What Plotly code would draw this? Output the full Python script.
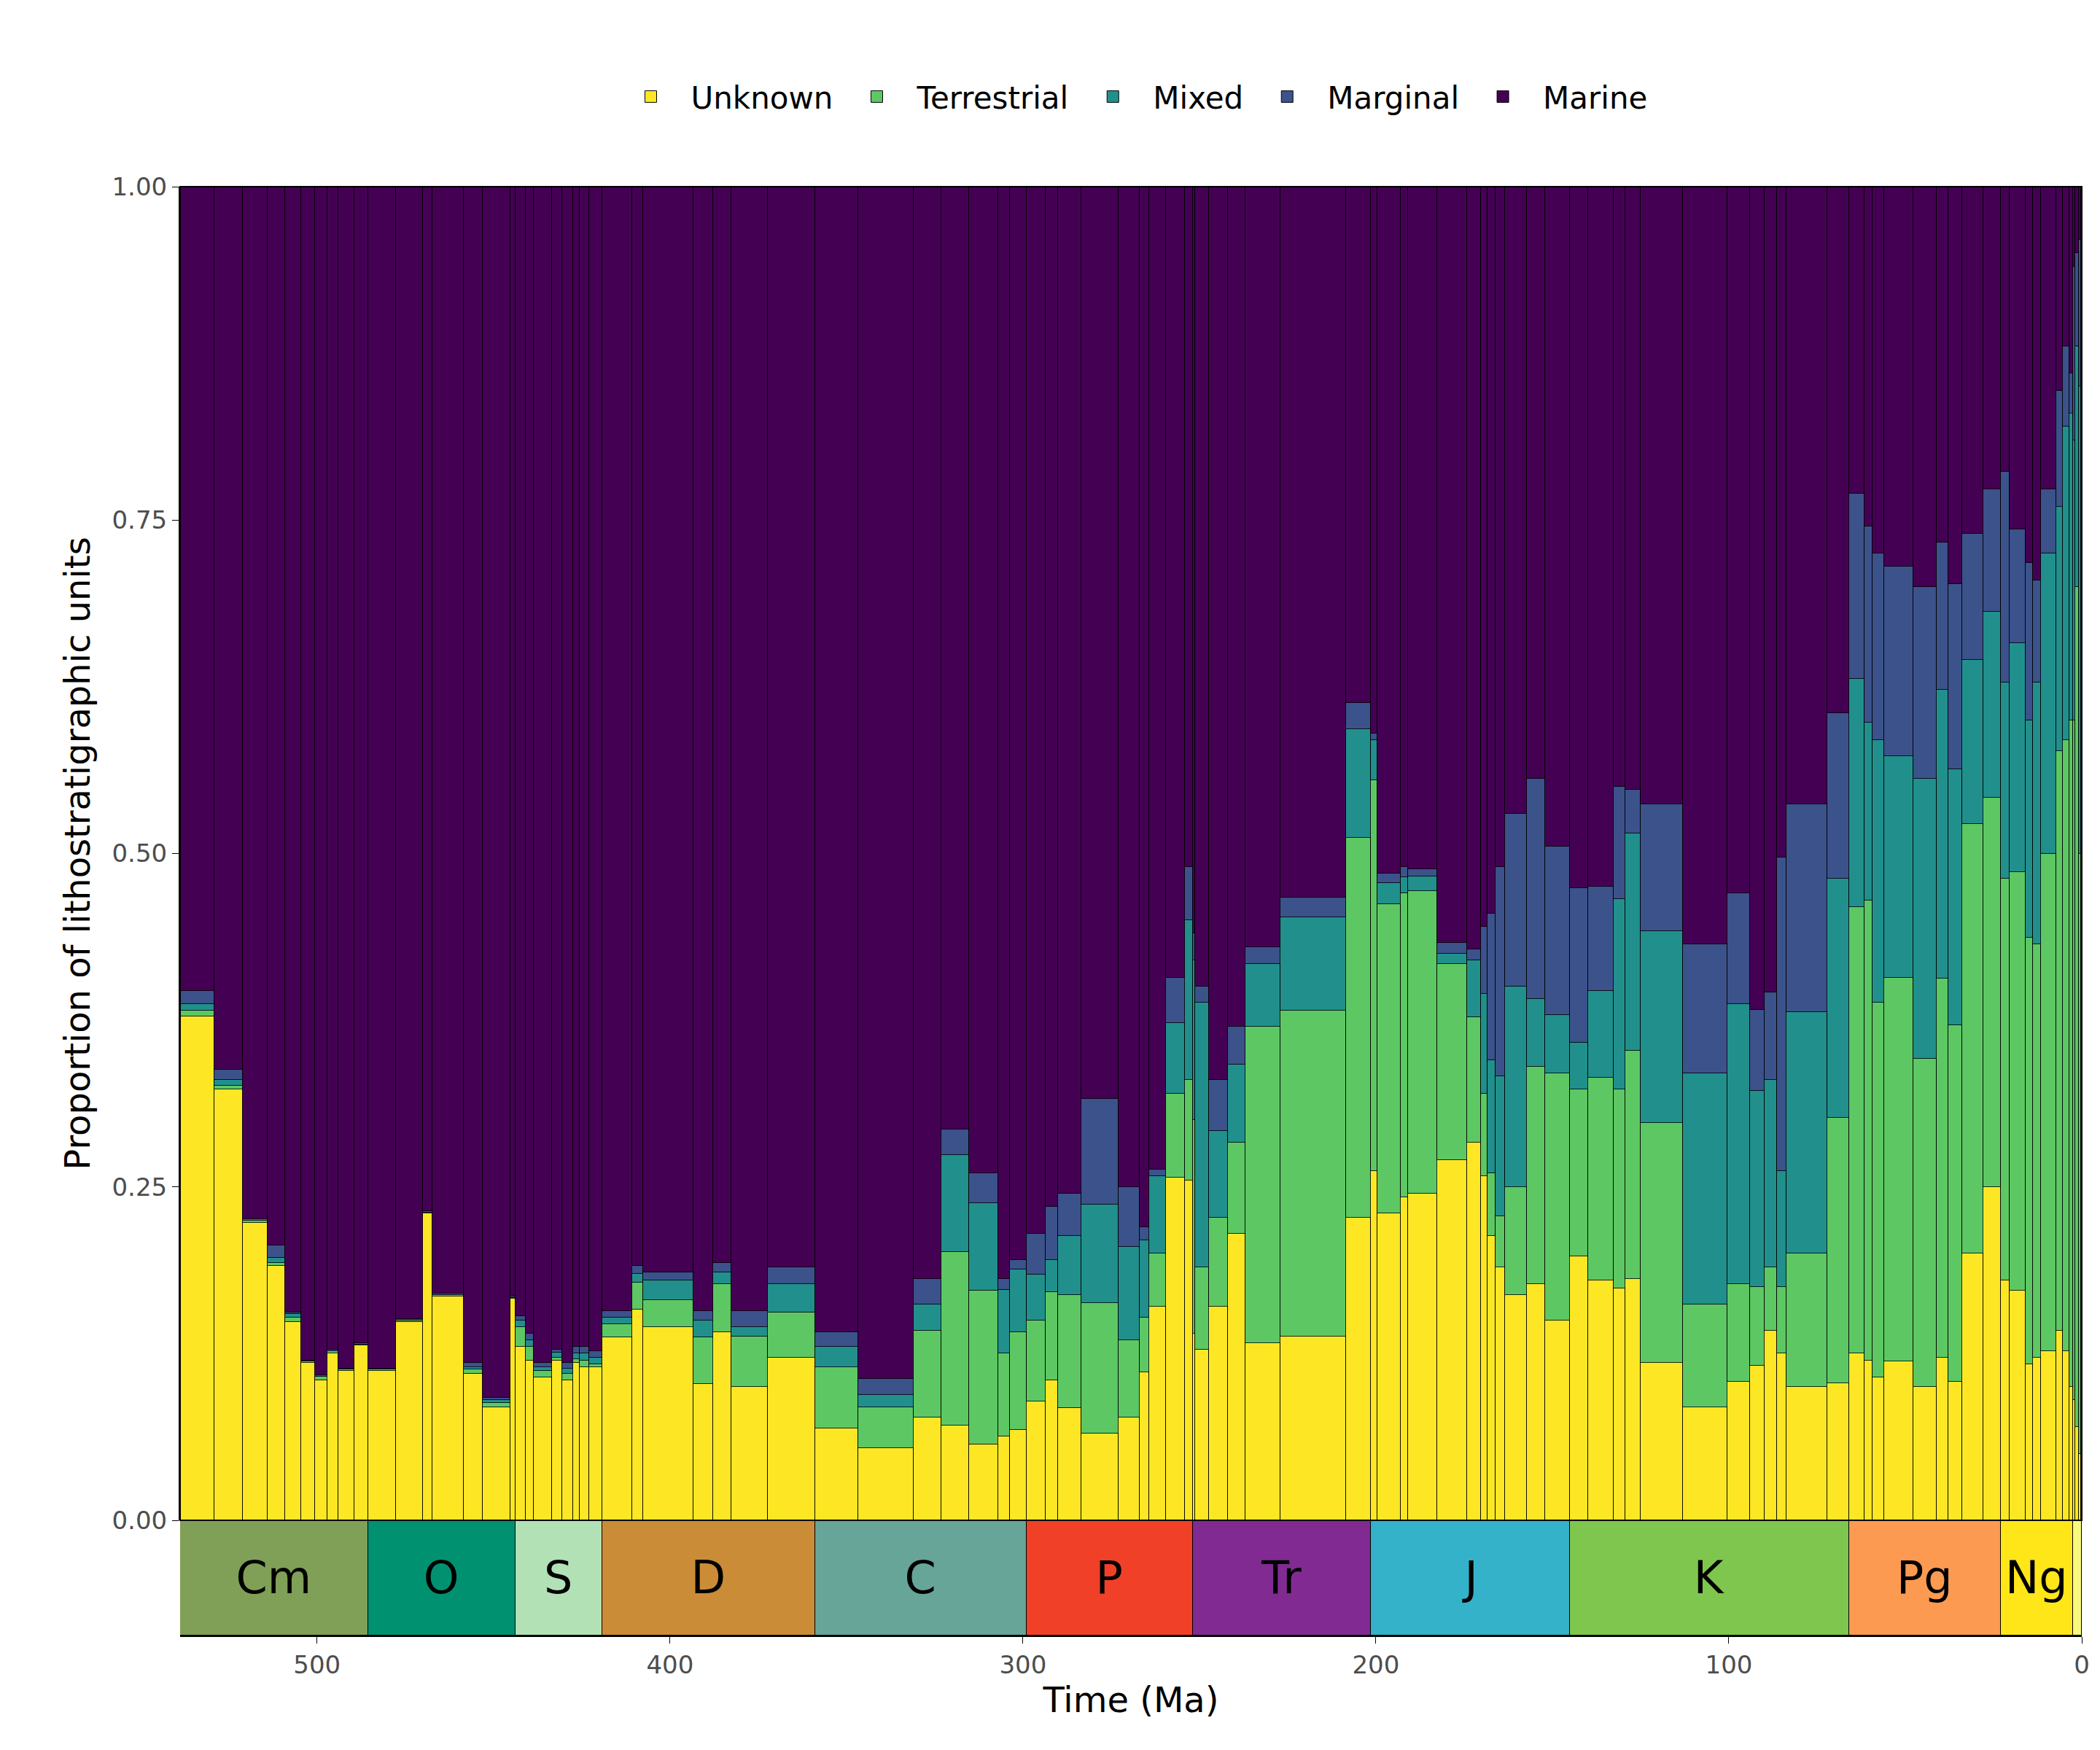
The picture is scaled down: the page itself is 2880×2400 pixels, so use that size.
import numpy as np
import plotly.graph_objects as go

# Stage start ages (Ma), oldest to youngest; final edge 0
stage_starts = [538.8,529,521,514,509,504.5,500.5,497,494,489.5,
                485.4,477.7,470,467.3,458.4,453,445.2,
                443.8,440.8,438.5,433.4,430.5,427.4,425.6,423,
                419.2,410.8,407.6,393.3,387.7,382.7,372.2,
                358.9,346.7,330.9,323.2,315.2,307,303.7,
                298.9,293.5,290.1,283.5,273,266.9,264.3,259.5,254.1,
                251.9,251.2,247.2,242,237,227,208.5,
                201.4,199.5,192.9,190.8,182.7,174.1,170.3,168.3,166.1,163.5,157.3,152.1,
                145,139.8,132.6,129.4,125,113,100.5,93.9,89.8,86.3,83.6,72.1,
                66,61.6,59.2,56,47.8,41.2,37.8,33.9,27.8,
                23.03,20.44,15.97,13.82,11.63,7.246,5.333,3.6,2.58,1.8,0.774,0.129,0.0117]
stage_end_final = 0.0

# Cumulative tops
unknown_top = [.378,.323,.223,.191,.149,.118,.105,.125,.112,.131,
 .112,.149,.230,.168,.110,.085,.166,
 .130,.120,.107,.120,.105,.118,.115,.115,
 .137,.158,.145,.102,.141,.100,.122,
 .069,.054,.077,.071,.057,.063,.068,
 .089,.105,.084,.065,.077,.111,.160,.257,.255,
 .14,.128,.160,.215,.133,.138,.227,
 .262,.230,.242,.245,.270,.283,.258,.213,.190,.169,.177,.150,
 .198,.180,.174,.181,.118,.085,.104,.116,.142,.125,.100,.103,
 .125,.120,.107,.119,.100,.122,.104,.200,.250,
 .180,.172,.117,.122,.127,.142,.127,.10,.09,.07,.05,.05,.05]
terrestrial_top = [.382,.326,.225,.193,.152,.119,.108,.127,.113,.132,
 .113,.150,.231,.169,.113,.088,.167,
 .145,.130,.112,.122,.110,.121,.120,.117,
 .147,.178,.165,.137,.177,.138,.156,
 .115,.085,.142,.201,.172,.125,.141,
 .150,.171,.169,.163,.135,.152,.200,.320,.330,
 .300,.190,.227,.283,.370,.382,.512,
 .555,.462,.470,.472,.417,.377,.320,.260,.228,.250,.340,.335,
 .323,.332,.323,.352,.298,.162,.177,.175,.190,.175,.200,.302,
 .460,.465,.388,.407,.346,.406,.371,.522,.542,
 .481,.486,.437,.432,.500,.577,.585,.60,.60,.70,.50,.06,.30]
mixed_top = [.387,.330,.226,.197,.155,.119,.108,.127,.113,.132,
 .113,.150,.231,.169,.115,.090,.167,
 .150,.135,.115,.126,.114,.125,.125,.122,
 .152,.185,.180,.150,.186,.145,.177,
 .130,.094,.162,.274,.238,.173,.188,
 .184,.195,.213,.237,.205,.210,.258,.373,.450,
 .420,.388,.292,.342,.417,.452,.593,
 .585,.478,.482,.483,.425,.420,.395,.345,.333,.400,.391,.379,
 .358,.397,.466,.515,.442,.335,.387,.322,.330,.262,.381,.481,
 .631,.598,.585,.573,.556,.623,.563,.645,.681,
 .628,.658,.600,.628,.725,.760,.820,.83,.81,.88,.85,.10,.70]
marginal_top = [.397,.338,.226,.206,.156,.120,.109,.128,.114,.133,
 .114,.151,.232,.170,.118,.092,.168,
 .153,.140,.118,.128,.118,.130,.130,.127,
 .157,.191,.186,.157,.193,.157,.190,
 .141,.106,.181,.293,.260,.181,.195,
 .215,.235,.245,.316,.250,.220,.263,.407,.490,
 .440,.400,.330,.370,.430,.467,.613,
 .590,.485,.490,.488,.433,.428,.445,.455,.490,.530,.556,.505,
 .474,.475,.550,.548,.537,.432,.470,.383,.396,.497,.537,.605,
 .770,.745,.725,.715,.700,.733,.702,.740,.773,
 .786,.743,.718,.705,.773,.847,.880,.86,.94,.95,.96,.12,.80]

period_names = ["Cm","O","S","D","C","P","Tr","J","K","Pg","Ng",""]
period_start = [538.8,485.4,443.8,419.2,358.9,298.9,251.9,201.4,145,66,23.03,2.58]
period_end = [485.4,443.8,419.2,358.9,298.9,251.9,201.4,145,66,23.03,2.58,0]
period_colors = ["#7FA056","#009270","#B3E1B6","#CB8C37","#67A599","#F04028",
                 "#812B92","#34B2C9","#7FC64E","#FD9A52","#FFE619","#F9F97F"]

categories = ["Unknown","Terrestrial","Mixed","Marginal","Marine"]
cat_colors = ["#FDE725","#5DC863","#21908C","#3B528B","#440154"]

starts = np.array(stage_starts)
ends = np.append(starts[1:], stage_end_final)
mids = (starts + ends) / 2
widths = starts - ends
tops = np.vstack([unknown_top, terrestrial_top, mixed_top, marginal_top, np.ones(len(starts))])
props = np.diff(np.vstack([np.zeros(len(starts)), tops]), axis=0)

fig = go.Figure()
for i, c in enumerate(categories):
    fig.add_trace(go.Bar(x=mids, y=props[i], width=widths, name=c, showlegend=False,
                         marker=dict(color=cat_colors[i], line=dict(color="black", width=0.8)),
                         xaxis="x", yaxis="y"))
# legend entries with large square keys
for i in reversed(range(len(categories))):
    fig.add_trace(go.Scatter(x=[None], y=[None], mode="markers", name=categories[i],
                             marker=dict(symbol="square", size=92, color=cat_colors[i],
                                         line=dict(color="black", width=1)),
                             xaxis="x", yaxis="y"))

ps = np.array(period_start); pe = np.array(period_end)
fig.add_trace(go.Bar(x=(ps+pe)/2, y=[1]*len(ps), width=ps-pe, text=period_names,
                     textposition="inside", insidetextanchor="middle",
                     textfont=dict(size=62, color="black"), textangle=0,
                     marker=dict(color=period_colors, line=dict(color="black", width=1.5)),
                     showlegend=False, xaxis="x", yaxis="y2", cliponaxis=False,
                     constraintext="none"))

fig.update_layout(
    width=2880, height=2400, barmode="stack", bargap=0,
    paper_bgcolor="white", plot_bgcolor="white",
    font=dict(family="DejaVu Sans", size=34, color="#4d4d4d"),
    margin=dict(l=239, r=33, t=248, b=165, autoexpand=False),
    legend=dict(orientation="h", x=0.5, xanchor="center", y=1.045, yanchor="bottom",
                itemsizing="trace", font=dict(size=42, color="black"), itemwidth=100),
    xaxis=dict(domain=[0,1], anchor="y2", range=[538.8,0], tickvals=[0,100,200,300,400,500],
               ticks="outside", ticklen=9, tickcolor="black", showgrid=False, zeroline=False,
               title=dict(text="Time (Ma)", font=dict(size=48, color="black"), standoff=8),
               showline=True, linecolor="black", linewidth=2),
    yaxis=dict(domain=[0.0795,1], anchor="x", range=[0,1], tickvals=[0,0.25,0.5,0.75,1],
               tickformat=".2f", ticks="outside", ticklen=9, tickcolor="black",
               showgrid=False, zeroline=False, showline=True, linecolor="black", linewidth=2,
               title=dict(text="Proportion of lithostratigraphic units", font=dict(size=48, color="black"))),
    yaxis2=dict(domain=[0,0.0795], anchor="x", range=[0,1], showticklabels=False,
                showgrid=False, zeroline=False, ticks=""),
)
fig.add_shape(type="rect", xref="paper", yref="paper", x0=0, x1=1, y0=0.0795, y1=1,
              line=dict(color="black", width=2))
fig.write_html("out.html")
